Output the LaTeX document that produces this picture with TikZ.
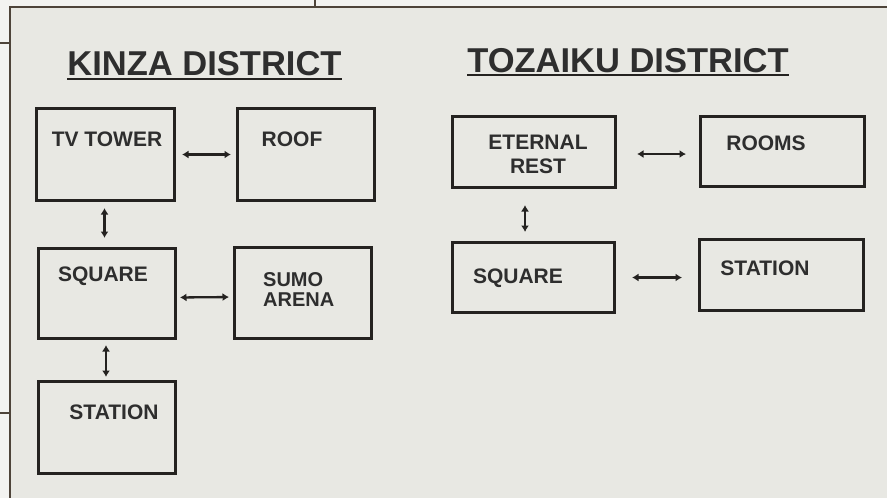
\documentclass[tikz,border=0pt]{standalone}
\usepackage{fontspec}
\setmainfont{Liberation Sans}
\usetikzlibrary{arrows.meta}
\definecolor{paper}{RGB}{232,232,227}
\definecolor{margin}{RGB}{243,243,241}
\definecolor{ink}{RGB}{36,34,32}
\definecolor{inktext}{RGB}{46,46,46}
\definecolor{rule}{RGB}{78,68,58}
\tikzstyle{room}=[rectangle, draw=ink, line width=3pt,
                  inner sep=0pt]
\tikzstyle{link}=[{Latex[length=6.5pt,width=8pt]}-{Latex[length=6.5pt,width=8pt]},
                  draw=ink, line width=2.3pt]
\begin{document}
\begin{tikzpicture}[x=1pt,y=-1pt]
  \tikzstyle{lables}=[font=\fontsize{21}{24}\selectfont\bfseries,text=inktext,inner sep=0pt]
  \tikzstyle{heading}=[font=\fontsize{34.5}{36}\selectfont\bfseries,text=inktext,inner sep=0pt]
  \useasboundingbox (0,0) rectangle (887,498);
  % page and frame
  \fill[margin] (0,0) rectangle (887,498);
  \fill[paper] (10,7) rectangle (887,498);
  \draw[rule, line width=1.5pt] (887,7) -- (10,7) -- (10,498);
  \draw[rule, line width=1.2pt] (315,0) -- (315,7);
  \draw[rule, line width=1.2pt] (0,43) -- (10,43);
  \draw[rule, line width=1.2pt] (0,413) -- (10,413);
  % headings
  \node[heading] (kinza) at (204.5,64) {KINZA DISTRICT};
  \node[heading] (tozaiku) at (628,60.5) {TOZAIKU DISTRICT};
  \draw[ink, line width=2.2pt] ([yshift=-3pt]kinza.base west) -- ([yshift=-3pt]kinza.base east);
  \draw[ink, line width=2.2pt] ([yshift=-3pt]tozaiku.base west) -- ([yshift=-3pt]tozaiku.base east);
  % kinza district
  \node (tvtower) at (105.5,154.5) [room, minimum width=138pt, minimum height=92pt] {};
  \node (roof) at (306,154.5) [room, minimum width=137pt, minimum height=92pt] {};
  \node (square) at (107,293.5) [room, minimum width=137pt, minimum height=90pt] {};
  \node (sumo) at (303,293) [room, minimum width=137pt, minimum height=91pt] {};
  \node (station) at (107,427.5) [room, minimum width=137pt, minimum height=92pt] {};
  \node[lables, anchor=base] (tvtowerlabel) at (107,146) {TV TOWER};
  \node[lables, anchor=base] (rooflabel) at (292,146) {ROOF};
  \node[lables, anchor=base] (squarelabel) at (103,281.5) {SQUARE};
  \node[lables, anchor=west, align=left, font=\fontsize{20}{20}\selectfont\bfseries] (sumolabel) at (263,290) {SUMO\\ARENA};
  \node[lables, anchor=base] (stationlabel) at (114,419.5) {STATION};
  \draw[link, shorten <=6pt, shorten >=5pt] (tvtower.east) -- (roof.west);
  \draw[link, shorten <=3pt, shorten >=4pt] ([yshift=-4pt]square.east) -- ([yshift=-4pt]sumo.west);
  \draw[link, shorten <=6pt, shorten >=9pt] ([xshift=-1pt]tvtower.south) -- ([xshift=-1pt]tvtower.south |- square.north);
  \draw[link, shorten <=5pt, shorten >=3pt] ([xshift=-1pt]square.south) -- ([xshift=-1pt]square.south |- station.north);
  % tozaiku district
  \node (eternal) at (534,152) [room, minimum width=163pt, minimum height=71pt] {};
  \node (rooms) at (782.5,151.5) [room, minimum width=164pt, minimum height=70pt] {};
  \node (tsquare) at (533.5,277.5) [room, minimum width=162pt, minimum height=70pt] {};
  \node (tstation) at (781.5,275) [room, minimum width=164pt, minimum height=71pt] {};
  \node[lables, align=center] (eternallabel) at (538,154) {ETERNAL\\REST};
  \node[lables, anchor=base] (roomslabel) at (766,150.5) {ROOMS};
  \node[lables, anchor=base] (tsquarelabel) at (518,283.5) {SQUARE};
  \node[lables, anchor=base] (tstationlabel) at (765,275.5) {STATION};
  \draw[link, shorten <=20pt, shorten >=13pt] ([yshift=-2pt]eternal.east) -- ([yshift=-2pt]eternal.east -| rooms.west);
  \draw[link, shorten <=16pt, shorten >=16pt] (tsquare.east) -- (tsquare.east -| tstation.west);
  \draw[link, shorten <=16pt, shorten >=9pt] ([xshift=-9pt]eternal.south) -- ([xshift=-9pt]eternal.south |- tsquare.north);
\end{tikzpicture}
\end{document}
